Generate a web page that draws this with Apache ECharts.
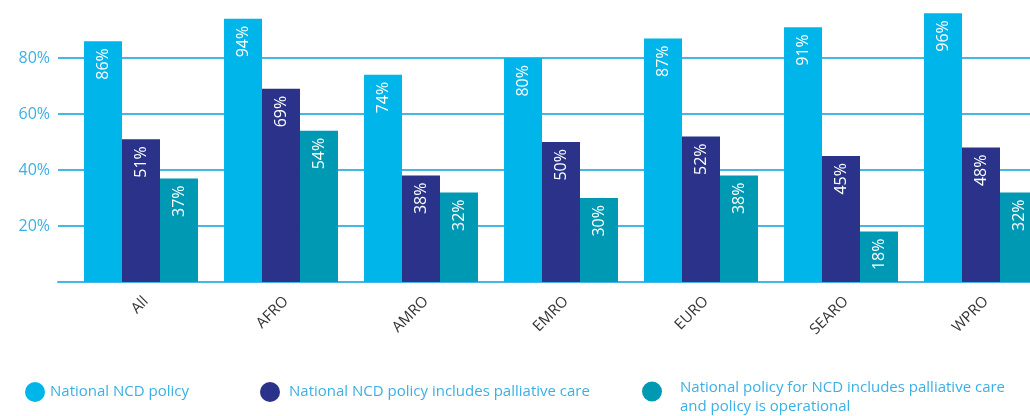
<!DOCTYPE html>
<html>
<head>
<meta charset="utf-8">
<script src="https://cdn.jsdelivr.net/npm/echarts@6/dist/echarts.min.js"></script>
<style>html,body{margin:0;padding:0;background:#fff}#c{width:1030px;height:416px}</style>
</head>
<body>
<div id="c"></div>
<script>
var categories = ['All', 'AFRO', 'AMRO', 'EMRO', 'EURO', 'SEARO', 'WPRO'];
var seriesNames = [
  'National NCD policy',
  'National NCD policy includes palliative care',
  'National policy for NCD includes palliative care\nand policy is operational'
];
var ncdPolicy = [86, 94, 74, 80, 87, 91, 96];
var palliativeCare = [51, 69, 38, 50, 52, 45, 48];
var operational = [37, 54, 32, 30, 38, 18, 32];
var yTicks = [20, 40, 60, 80];

var colors = ['#00B5EA', '#2A3389', '#0099B4'];
var lineColor = '#45B6E6';
var textBlue = '#3AB0E4';
var FONT = 'Open Sans';

var chart = echarts.init(document.getElementById('c'), null, {renderer: 'canvas'});

function mkSeries(name, data, color) {
  return {
    name: name, type: 'bar', xAxisIndex: 1, yAxisIndex: 1,
    data: data, barGap: '0%', barCategoryGap: '18.6%',
    itemStyle: {color: color},
    label: {
      show: true, position: 'insideTop', rotate: 90, align: 'right', verticalAlign: 'middle',
      distance: 7, color: '#fff', fontFamily: FONT, fontSize: 16,
      formatter: function (p) { return p.value + '%'; }
    }
  };
}

function mkLegend(idx, left, top, pad) {
  return {
    data: [seriesNames[idx]], left: left, top: top, icon: 'circle',
    itemWidth: 20, itemHeight: 20, itemGap: 0,
    textStyle: {color: textBlue, fontFamily: FONT, fontSize: 15, lineHeight: 19, padding: pad}
  };
}

var leg3 = mkLegend(2, 637, 362, [0, 0, 0, 13]);
leg3.formatter = function (name) {
  var parts = name.split('\n');
  return '{s| }\n{t|' + parts[0] + '}\n{t|' + parts[1] + '}';
};
leg3.textStyle.rich = {
  s: {fontSize: 4, lineHeight: 11},
  t: {fontSize: 15, lineHeight: 19, color: textBlue, fontFamily: FONT}
};

chart.setOption({
  animation: false,
  grid: [
    {left: 58, right: 0, top: 2, bottom: 134, outerBoundsMode: 'none'},
    {left: 71, width: 980, top: 2, bottom: 134, outerBoundsMode: 'none'}
  ],
  xAxis: [
    {type: 'category', gridIndex: 0, data: [''],
     axisLine: {show: true, lineStyle: {color: lineColor, width: 2}},
     axisTick: {show: false}, axisLabel: {show: false}, splitLine: {show: false}},
    {type: 'category', gridIndex: 1, data: categories,
     axisLine: {show: false}, axisTick: {show: false},
     axisLabel: {rotate: 45, margin: 22, padding: [0, -7, 0, 0], color: '#333', fontFamily: FONT, fontSize: 15}}
  ],
  yAxis: [
    {type: 'value', gridIndex: 0, min: 0, max: 100, interval: 20,
     axisLine: {show: false}, axisTick: {show: false},
     axisLabel: {showMinLabel: false, showMaxLabel: false, margin: 8, color: textBlue,
       fontFamily: FONT, fontSize: 16,
       formatter: function (v) { return yTicks.indexOf(v) >= 0 ? v + '%' : ''; }},
     splitLine: {show: true, showMinLine: false, showMaxLine: false, lineStyle: {color: lineColor, width: 2}}},
    {type: 'value', gridIndex: 1, min: 0, max: 100, interval: 20, show: false, splitLine: {show: false}}
  ],
  legend: [
    mkLegend(0, 20, 377, [0, 0, 0, 0]),
    mkLegend(1, 255, 377, [0, 0, 0, 4]),
    leg3
  ],
  series: [
    mkSeries(seriesNames[0], ncdPolicy, colors[0]),
    mkSeries(seriesNames[1], palliativeCare, colors[1]),
    mkSeries(seriesNames[2], operational, colors[2])
  ]
});
</script>
</body>
</html>
